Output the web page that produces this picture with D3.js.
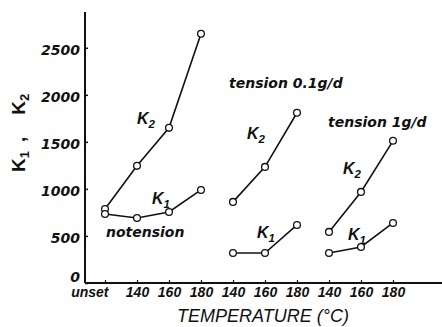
<!DOCTYPE html>
<html>
<head>
<meta charset="utf-8">
<script src="https://cdn.jsdelivr.net/npm/d3@7"></script>
<style>
  body { margin: 0; background: #fff; }
  text { fill: #111; }
</style>
</head>
<body>
<script>
// x slots: one "unset" point, then three temperature sets (no tension, 0.1 g/d, 1 g/d)
const xTickLabels = ["unset", "140", "160", "180", "140", "160", "180", "140", "160", "180"];
const yTicks = [0, 500, 1000, 1500, 2000, 2500];

// no tension: unset, 140, 160, 180
const k2NoTension = [787, 1245, 1649, 2649];
const k1NoTension = [734, 691, 755, 989];
// tension 0.1 g/d: 140, 160, 180
const k2Tension01 = [862, 1234, 1809];
const k1Tension01 = [319, 319, 617];
// tension 1 g/d: 140, 160, 180
const k2Tension1 = [543, 968, 1511];
const k1Tension1 = [319, 383, 638];

const series = [
  { values: k2NoTension, start: 0 },
  { values: k1NoTension, start: 0 },
  { values: k2Tension01, start: 4 },
  { values: k1Tension01, start: 4 },
  { values: k2Tension1, start: 7 },
  { values: k1Tension1, start: 7 },
];

const width = 442;
const height = 327;
const axisX = 85;
const axisY = 283;

const svg = d3.select("body")
  .append("svg")
  .attr("width", width)
  .attr("height", height);

const xScale = d3.scalePoint()
  .domain(d3.range(xTickLabels.length))
  .range([105, 393]);

const yScale = d3.scaleLinear()
  .domain([0, 2880])
  .range([axisY, 12]);

// axes lines (long plain strokes like the original)
svg.append("line")
  .attr("x1", axisX).attr("x2", width)
  .attr("y1", axisY).attr("y2", axisY)
  .attr("stroke", "#111").attr("stroke-width", 2);
svg.append("line")
  .attr("x1", axisX).attr("x2", axisX)
  .attr("y1", yScale.range()[1]).attr("y2", axisY)
  .attr("stroke", "#111").attr("stroke-width", 2);

const bottomAxis = d3.axisBottom(xScale)
  .tickSize(-3)
  .tickPadding(4)
  .tickFormat((i) => xTickLabels[i]);

const bottom = svg.append("g")
  .attr("transform", `translate(0,${axisY})`)
  .call(bottomAxis);
bottom.select(".domain").remove();
bottom.selectAll("line").attr("stroke", "#111").attr("stroke-width", 1.2);
bottom.selectAll("text")
  .attr("font-family", "Liberation Sans, Arial, sans-serif")
  .attr("font-weight", "bold")
  .attr("font-style", "italic")
  .attr("font-size", 14)
  .attr("fill", "#111")
  .attr("text-anchor", (i) => (i === 0 ? "end" : "middle"))
  .attr("x", (i) => (i === 0 ? 3 : 0));

const leftAxis = d3.axisLeft(yScale)
  .tickValues(yTicks)
  .tickSize(-3)
  .tickPadding(5)
  .tickFormat(d3.format("d"));

const left = svg.append("g")
  .attr("transform", `translate(${axisX},0)`)
  .call(leftAxis);
left.select(".domain").remove();
left.selectAll("line").attr("stroke", "#111").attr("stroke-width", 1.5);
left.selectAll("text")
  .attr("font-family", "DejaVu Sans, sans-serif")
  .attr("font-weight", "bold")
  .attr("font-style", "oblique")
  .attr("font-size", 14)
  .attr("fill", "#111")
  .attr("dy", (d) => (d === 0 ? "-0.1em" : "0.45em"));

// lines + open circles
const line = d3.line()
  .x((d) => xScale(d.slot))
  .y((d) => yScale(d.v));

series.forEach((s) => {
  const pts = s.values.map((v, i) => ({ v, slot: s.start + i }));
  svg.append("path")
    .datum(pts)
    .attr("d", line)
    .attr("fill", "none")
    .attr("stroke", "#111")
    .attr("stroke-width", 1.6);
  svg.append("g")
    .selectAll("circle")
    .data(pts)
    .join("circle")
    .attr("cx", (d) => xScale(d.slot))
    .attr("cy", (d) => yScale(d.v))
    .attr("r", 3.4)
    .attr("fill", "#fff")
    .attr("stroke", "#111")
    .attr("stroke-width", 1.3);
});

// K labels with subscripts
function kLabel(x, y, sub, size) {
  const t = svg.append("text")
    .attr("x", x).attr("y", y)
    .attr("font-family", "Liberation Sans, Arial, sans-serif")
    .attr("font-weight", "bold")
    .attr("font-style", "italic")
    .attr("font-size", size);
  t.append("tspan").text("K");
  t.append("tspan").attr("dy", 4).attr("font-size", size * 0.72).text(sub);
}

kLabel(137, 124, "2", 16);
kLabel(152, 204, "1", 16);
kLabel(247, 139, "2", 16);
kLabel(257, 238, "1", 16);
kLabel(343, 174, "2", 16);
kLabel(348, 240, "1", 16);

function note(x, y, str) {
  svg.append("text")
    .attr("x", x).attr("y", y)
    .attr("font-family", "DejaVu Sans, sans-serif")
    .attr("font-weight", "bold")
    .attr("font-style", "oblique")
    .attr("font-size", 14)
    .text(str);
}

note(106, 237, "notension");
note(229, 88, "tension 0.1g/d");
note(328, 127, "tension 1g/d");

// axis titles
svg.append("text")
  .attr("x", 263).attr("y", 322)
  .attr("text-anchor", "middle")
  .attr("font-family", "Liberation Sans, Arial, sans-serif")
  .attr("font-style", "italic")
  .attr("font-size", 18)
  .text("TEMPERATURE (°C)");

const yTitle = svg.append("text")
  .attr("transform", "translate(25,172) rotate(-90)")
  .attr("font-family", "Liberation Sans, Arial, sans-serif")
  .attr("font-weight", "bold")
  .attr("font-size", 19);
yTitle.append("tspan").text("K");
yTitle.append("tspan").attr("dy", 4).attr("font-size", 13).text("1");
yTitle.append("tspan").attr("dy", -4).attr("dx", 9).text(",");
yTitle.append("tspan").attr("dx", 22).text("K");
yTitle.append("tspan").attr("dy", 4).attr("font-size", 13).text("2");
</script>
</body>
</html>
